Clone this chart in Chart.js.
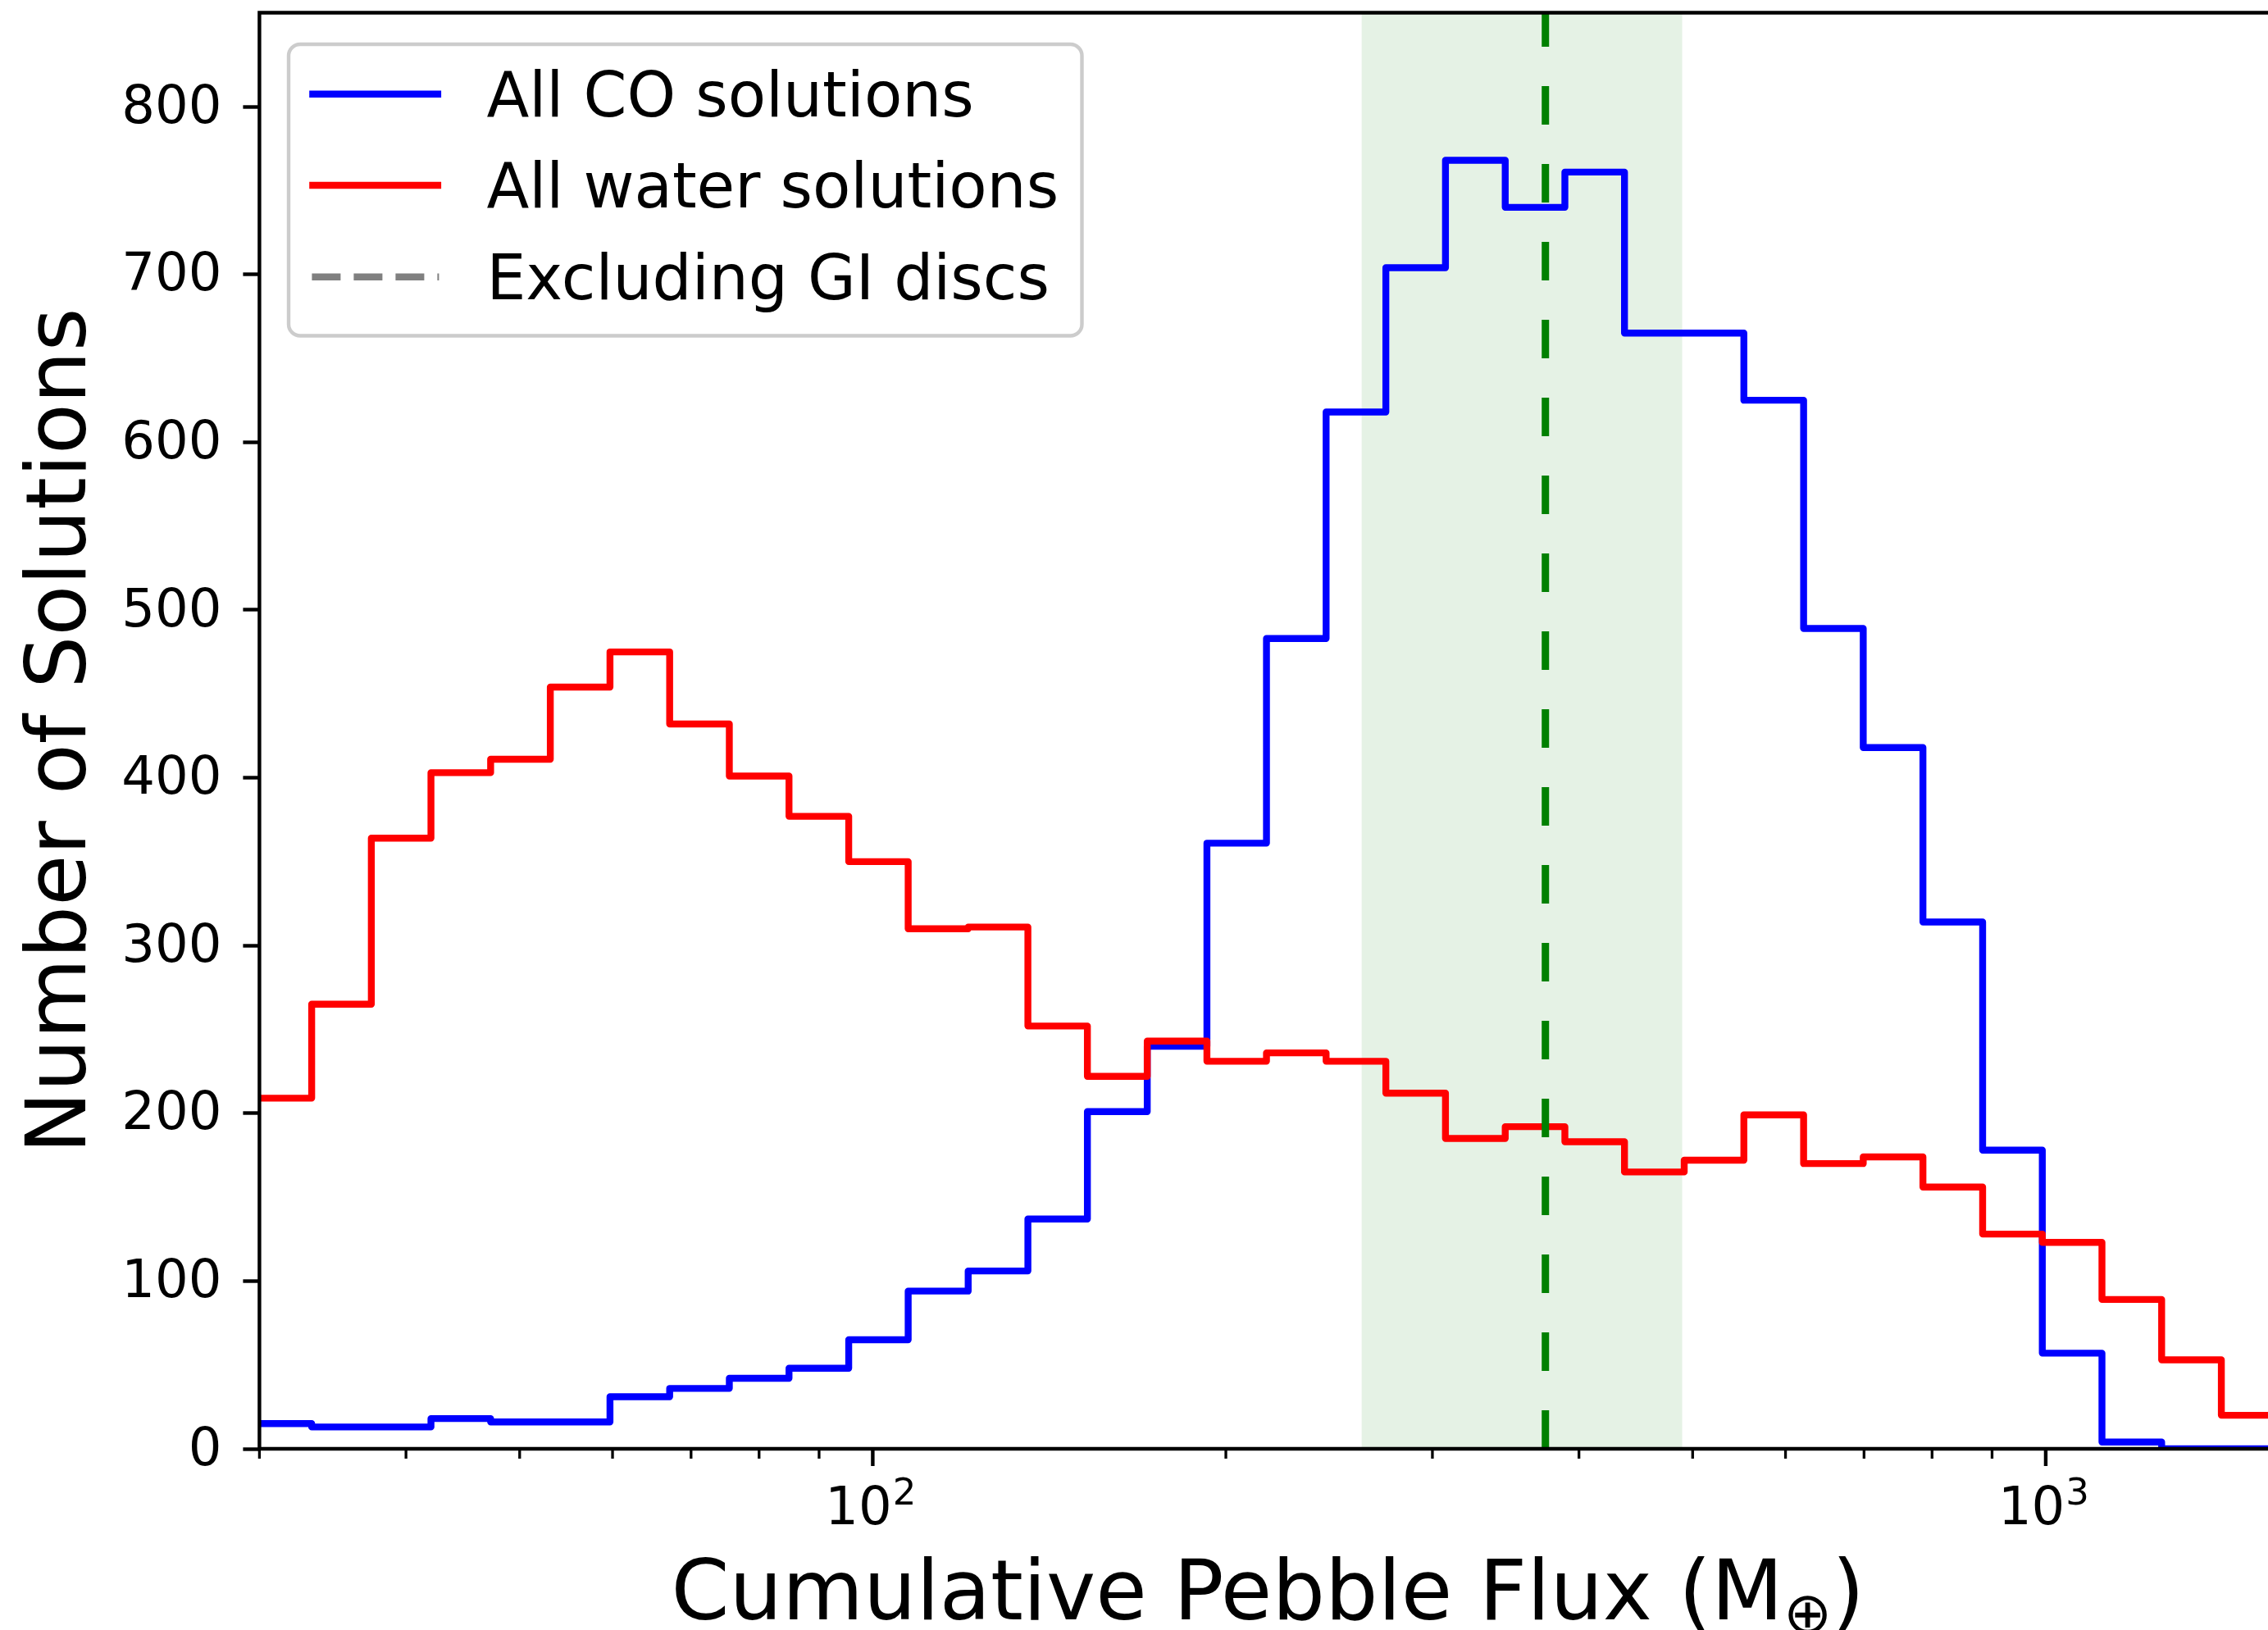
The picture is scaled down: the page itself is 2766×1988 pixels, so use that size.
<!DOCTYPE html>
<html>
<head>
<meta charset="utf-8">
<title>Cumulative pebble flux histogram</title>
<script src="https://cdn.jsdelivr.net/npm/chart.js@4.4.1/dist/chart.umd.min.js"></script>
<style>
  html, body { margin: 0; padding: 0; background: #ffffff; }
  #wrap { width: 2766px; height: 1988px; }
</style>
</head>
<body>
<div id="wrap"><canvas id="c" width="2766" height="1988"></canvas></div>
<script>
// Logarithmic bin edges (Earth masses) shared by both histograms
const binEdges = [29.56, 33.24, 37.37, 42.01, 47.23, 53.10, 59.70, 67.12, 75.46, 84.84,
                  95.39, 107.2, 120.6, 135.6, 152.4, 171.4, 192.7, 216.6, 243.5, 273.8,
                  307.8, 346.1, 389.1, 437.4, 491.8, 552.9, 621.7, 698.9, 785.8, 883.5,
                  993.3, 1116.7, 1255.5, 1411.6, 1587.0];

// Counts per bin
const coCounts = [15, 13, 13, 18, 16, 16, 31, 36, 42, 48, 65, 94, 106, 137, 201, 240, 361, 483,
                  618, 704, 768, 740, 761, 665, 665, 625, 489, 418, 314, 178, 57, 4, 0, 0];
const waterCounts = [209, 265, 364, 403, 411, 454, 475, 432, 401, 377, 350, 310, 311, 252, 222, 243, 231,
                     236, 231, 212, 185, 192, 183, 165, 172, 199, 170, 174, 156, 128, 123, 89, 53, 20];

// GI-disc range and its median
const giBand = [261, 490];
const giMedian = 374.5;

// Axes
const xRange = [30, 1547];
const yRange = [0, 856];
const yTickStep = 100;
const xMinorTicks = [30, 40, 50, 60, 70, 80, 90, 200, 300, 400, 500, 600, 700, 800, 900];
const xMajorTicks = [100, 1000];
const xMajorLabels = [['10', '2'], ['10', '3']];

const seriesNames = ['All CO solutions', 'All water solutions', 'Excluding GI discs'];
const xTitle = ['Cumulative Pebble Flux (M', '\u2295', ')'];
const yTitle = 'Number of Solutions';

const FONT = '"DejaVu Sans", "Liberation Sans", sans-serif';
const COLORS = { co: '#0000ff', water: '#ff0000', gi: '#808080', median: '#008000' };

// Step outline: each bin's left edge carries its count, plus a closing point at the last edge
function stepPoints(counts) {
  const pts = counts.map((c, i) => ({ x: binEdges[i], y: c }));
  pts.push({ x: binEdges[counts.length], y: counts[counts.length - 1] });
  return pts;
}

// Spines, x ticks, tick labels and axis titles
const axesFrame = {
  id: 'axesFrame',
  afterDatasetsDraw(chart) {
    const { ctx, chartArea: a, scales: { x } } = chart;
    ctx.save();
    ctx.strokeStyle = '#000';
    ctx.lineWidth = 4.4;
    ctx.lineCap = 'square';
    ctx.beginPath();
    ctx.moveTo(a.right + 10, a.top); ctx.lineTo(a.left, a.top); ctx.lineTo(a.left, a.bottom); ctx.lineTo(a.right + 10, a.bottom);
    ctx.stroke();

    ctx.lineCap = 'butt';
    ctx.lineWidth = 3.3;
    ctx.beginPath();
    xMinorTicks.forEach(v => {
      const px = x.getPixelForValue(v);
      ctx.moveTo(px, a.bottom); ctx.lineTo(px, a.bottom + 12);
    });
    ctx.stroke();
    ctx.lineWidth = 4.4;
    ctx.beginPath();
    xMajorTicks.forEach(v => {
      const px = x.getPixelForValue(v);
      ctx.moveTo(px, a.bottom); ctx.lineTo(px, a.bottom + 21);
    });
    ctx.stroke();

    // 10^n labels
    ctx.fillStyle = '#000';
    ctx.textBaseline = 'alphabetic';
    ctx.textAlign = 'left';
    xMajorTicks.forEach((v, i) => {
      const [base, exp] = xMajorLabels[i];
      const px = x.getPixelForValue(v);
      ctx.font = '64px ' + FONT;
      const wb = ctx.measureText(base).width;
      ctx.font = '45px ' + FONT;
      const we = ctx.measureText(exp).width;
      const x0 = px - (wb + we) / 2 - 3;
      ctx.font = '64px ' + FONT;
      ctx.fillText(base, x0, a.bottom + 92);
      ctx.font = '45px ' + FONT;
      ctx.fillText(exp, x0 + wb + 1, a.bottom + 68);
    });

    // x title with subscript symbol
    ctx.font = '101.7px ' + FONT;
    const w1 = ctx.measureText(xTitle[0]).width;
    const w3 = ctx.measureText(xTitle[2]).width;
    ctx.font = '71px ' + FONT;
    const w2 = ctx.measureText(xTitle[1]).width;
    const cx = (a.left + a.right) / 2 + 5;
    let tx = cx - (w1 + w2 + w3) / 2;
    const base = a.bottom + 208;
    ctx.font = '101.7px ' + FONT;
    ctx.fillText(xTitle[0], tx, base);
    ctx.font = '71px ' + FONT;
    ctx.fillText(xTitle[1], tx + w1, base + 17);
    ctx.font = '101.7px ' + FONT;
    ctx.fillText(xTitle[2], tx + w1 + w2, base);

    // y title
    ctx.save();
    ctx.translate(104, (a.top + a.bottom) / 2);
    ctx.rotate(-Math.PI / 2);
    ctx.textAlign = 'center';
    ctx.font = '101px ' + FONT;
    ctx.fillText(yTitle, 0, 0);
    ctx.restore();
    ctx.restore();
  }
};

// Legend box in the upper left of the axes
const legendBox = {
  id: 'legendBox',
  afterDraw(chart) {
    const { ctx, chartArea: a } = chart;
    const L = a.left + 35.6, T = a.top + 38.5, W = 967.5, H = 355.5;
    ctx.save();
    ctx.beginPath();
    ctx.roundRect(L, T, W, H, 14);
    ctx.fillStyle = 'rgba(255,255,255,0.8)';
    ctx.fill();
    ctx.lineWidth = 4.4;
    ctx.strokeStyle = '#cccccc';
    ctx.stroke();

    const styles = [
      { color: COLORS.co, dash: [] },
      { color: COLORS.water, dash: [] },
      { color: COLORS.gi, dash: [35, 16] }
    ];
    const handleY = [99.2, 210.5, 322.2];
    const textY = [126.2, 237.8, 349.5];
    seriesNames.forEach((name, i) => {
      const s = styles[i];
      ctx.beginPath();
      ctx.strokeStyle = s.color;
      ctx.lineWidth = 8.4;
      ctx.setLineDash(s.dash);
      ctx.lineCap = s.dash.length ? 'butt' : 'square';
      const y = a.top + handleY[i];
      if (s.dash.length) { ctx.moveTo(a.left + 64, y); ctx.lineTo(a.left + 219, y); }
      else { ctx.moveTo(a.left + 65, y); ctx.lineTo(a.left + 217.5, y); }
      ctx.stroke();
      ctx.setLineDash([]);
      ctx.fillStyle = '#000';
      ctx.font = '75.8px ' + FONT;
      ctx.textAlign = 'left';
      ctx.textBaseline = 'alphabetic';
      ctx.fillText(name, a.left + 277, a.top + textY[i]);
    });
    ctx.restore();
  }
};

new Chart(document.getElementById('c'), {
  type: 'line',
  data: {
    datasets: [
      {
        label: 'GI median',
        data: [{ x: giMedian, y: yRange[0] }, { x: giMedian, y: yRange[1] }],
        borderColor: COLORS.median,
        borderWidth: 9,
        borderDash: [47, 48],
        pointRadius: 0,
        fill: false,
        clip: 0
      },
      {
        label: seriesNames[1],
        data: stepPoints(waterCounts),
        borderColor: COLORS.water,
        borderWidth: 8.4,
        stepped: true,
        borderJoinStyle: 'round',
        pointRadius: 0,
        fill: false,
        clip: 0
      },
      {
        label: seriesNames[0],
        data: stepPoints(coCounts),
        borderColor: COLORS.co,
        borderWidth: 8.4,
        stepped: true,
        borderJoinStyle: 'round',
        pointRadius: 0,
        fill: false,
        clip: 0
      },
      {
        label: 'GI range',
        data: [{ x: giBand[0], y: yRange[1] }, { x: giBand[1], y: yRange[1] }],
        borderWidth: 0,
        borderColor: 'rgba(0,0,0,0)',
        backgroundColor: 'rgba(0,128,0,0.1)',
        pointRadius: 0,
        fill: 'origin',
        clip: 0
      }
    ]
  },
  options: {
    responsive: false,
    maintainAspectRatio: false,
    devicePixelRatio: 1,
    animation: false,
    events: [],
    layout: { padding: { top: 15.5, bottom: 221, left: 0, right: 0 } },
    plugins: { legend: { display: false }, tooltip: { enabled: false } },
    scales: {
      x: {
        type: 'logarithmic',
        min: xRange[0],
        max: xRange[1],
        display: false
      },
      y: {
        type: 'linear',
        min: yRange[0],
        max: yRange[1],
        ticks: {
          stepSize: yTickStep,
          includeBounds: false,
          color: '#000',
          padding: 26,
          labelOffset: 3,
          font: { family: FONT, size: 64 }
        },
        grid: {
          drawOnChartArea: false,
          drawTicks: true,
          tickLength: 20,
          tickWidth: 4.4,
          tickColor: '#000'
        },
        border: { display: false },
        afterFit(scale) {
          scale.width = 316.4;
          scale.paddingTop = 0;
          scale.paddingBottom = 0;
        }
      }
    }
  },
  plugins: [axesFrame, legendBox]
});
</script>
</body>
</html>
